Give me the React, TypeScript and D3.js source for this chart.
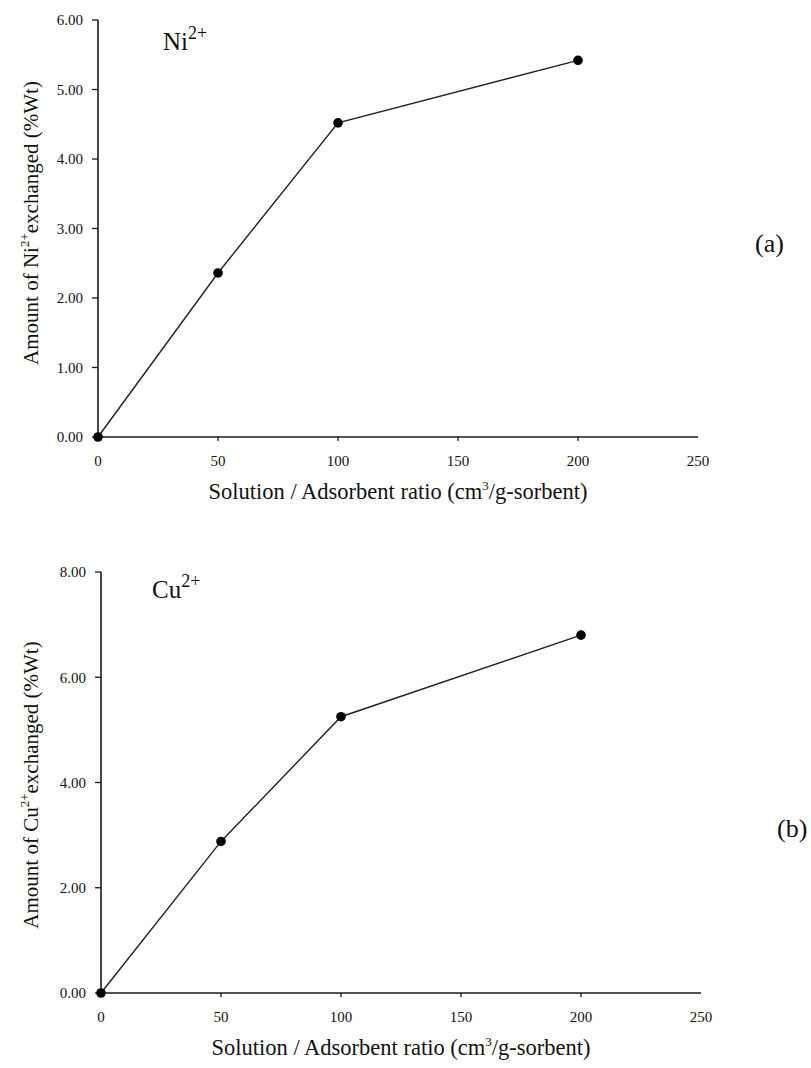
import React from "react";
import * as d3 from "d3";

const xValues = [0, 50, 100, 200];
const niValues = [0, 2.36, 4.52, 5.42];
const cuValues = [0, 2.88, 5.25, 6.8];
const xTicks = [0, 50, 100, 150, 200, 250];
const niYTicks = [0, 1, 2, 3, 4, 5, 6];
const cuYTicks = [0, 2, 4, 6, 8];

const FONT = "'Liberation Serif', 'Times New Roman', serif";

type PanelProps = {
  ys: number[];
  yTicks: number[];
  yMax: number;
  x0: number;
  x1: number;
  yTop: number;
  yBottom: number;
  ion: string;
  ionX: number;
  ionY: number;
  yLabelCenter: number;
  tag: string;
  tagX: number;
  tagY: number;
};

function Panel(p: PanelProps) {
  const x = d3.scaleLinear().domain([0, 250]).range([p.x0, p.x1]);
  const y = d3.scaleLinear().domain([0, p.yMax]).range([p.yBottom, p.yTop]);
  const pts = xValues.map((v, i) => [v, p.ys[i]] as [number, number]);
  const line = d3
    .line<[number, number]>()
    .x((d) => x(d[0]))
    .y((d) => y(d[1]));
  const fmt = d3.format(".2f");
  const stroke = "#1a1a1a";
  return (
    <g fontFamily={FONT} fill="#111">
      {/* axes */}
      <line x1={x(0)} x2={x(0)} y1={y(p.yMax)} y2={y(0)} stroke={stroke} strokeWidth={1.6} />
      <line x1={x(0)} x2={x(250)} y1={y(0)} y2={y(0)} stroke={stroke} strokeWidth={1.6} />
      {p.yTicks.map((t) => (
        <g key={"y" + t}>
          <line x1={x(0) - 6} x2={x(0)} y1={y(t)} y2={y(t)} stroke={stroke} strokeWidth={1.3} />
          <text x={x(0) - 15} y={y(t)} dy="0.35em" textAnchor="end" fontSize={15}>
            {fmt(t)}
          </text>
        </g>
      ))}
      {xTicks.map((t) => (
        <g key={"x" + t}>
          {t > 0 && t < 250 && (
            <line x1={x(t)} x2={x(t)} y1={y(0)} y2={y(0) + 4} stroke={stroke} strokeWidth={1.3} />
          )}
          <text x={x(t)} y={y(0) + 29} textAnchor="middle" fontSize={15}>
            {t}
          </text>
        </g>
      ))}
      {/* series */}
      <path d={line(pts) || ""} fill="none" stroke="#222" strokeWidth={1.4} />
      {pts.map((d, i) => (
        <circle key={i} cx={x(d[0])} cy={y(d[1])} r={4.8} fill="#000" />
      ))}
      {/* ion label */}
      <text x={p.ionX} y={p.ionY} fontSize={25}>
        {p.ion}
        <tspan fontSize={18} dy={-11}>2+</tspan>
      </text>
      {/* x title */}
      <text x={(x(0) + x(250)) / 2} y={y(0) + 62} textAnchor="middle" fontSize={22.5}>
        Solution / Adsorbent ratio (cm
        <tspan fontSize={13} dy={-9}>3</tspan>
        <tspan dy={9}>/g-sorbent)</tspan>
      </text>
      {/* y title */}
      <text
        transform={`translate(38,${p.yLabelCenter}) rotate(-90)`}
        textAnchor="middle"
        fontSize={21}
      >
        Amount of {p.ion}
        <tspan fontSize={13} dy={-9}>2+</tspan>
        <tspan dy={9}>exchanged (%Wt)</tspan>
      </text>
      <text x={p.tagX} y={p.tagY} fontSize={26}>
        {p.tag}
      </text>
    </g>
  );
}

export default function App() {
  return (
    <svg
      width={811}
      height={1068}
      style={{ position: "absolute", left: 0, top: 0, background: "#fff" }}
    >
      <rect x={0} y={0} width={811} height={1068} fill="#fff" />
      <Panel
        ys={niValues}
        yTicks={niYTicks}
        yMax={6}
        x0={98}
        x1={698}
        yTop={20}
        yBottom={437}
        ion="Ni"
        ionX={163}
        ionY={50}
        yLabelCenter={223}
        tag="(a)"
        tagX={755}
        tagY={252}
      />
      <Panel
        ys={cuValues}
        yTicks={cuYTicks}
        yMax={8}
        x0={101}
        x1={701}
        yTop={572}
        yBottom={993}
        ion="Cu"
        ionX={152}
        ionY={598}
        yLabelCenter={785}
        tag="(b)"
        tagX={777}
        tagY={837}
      />
    </svg>
  );
}
